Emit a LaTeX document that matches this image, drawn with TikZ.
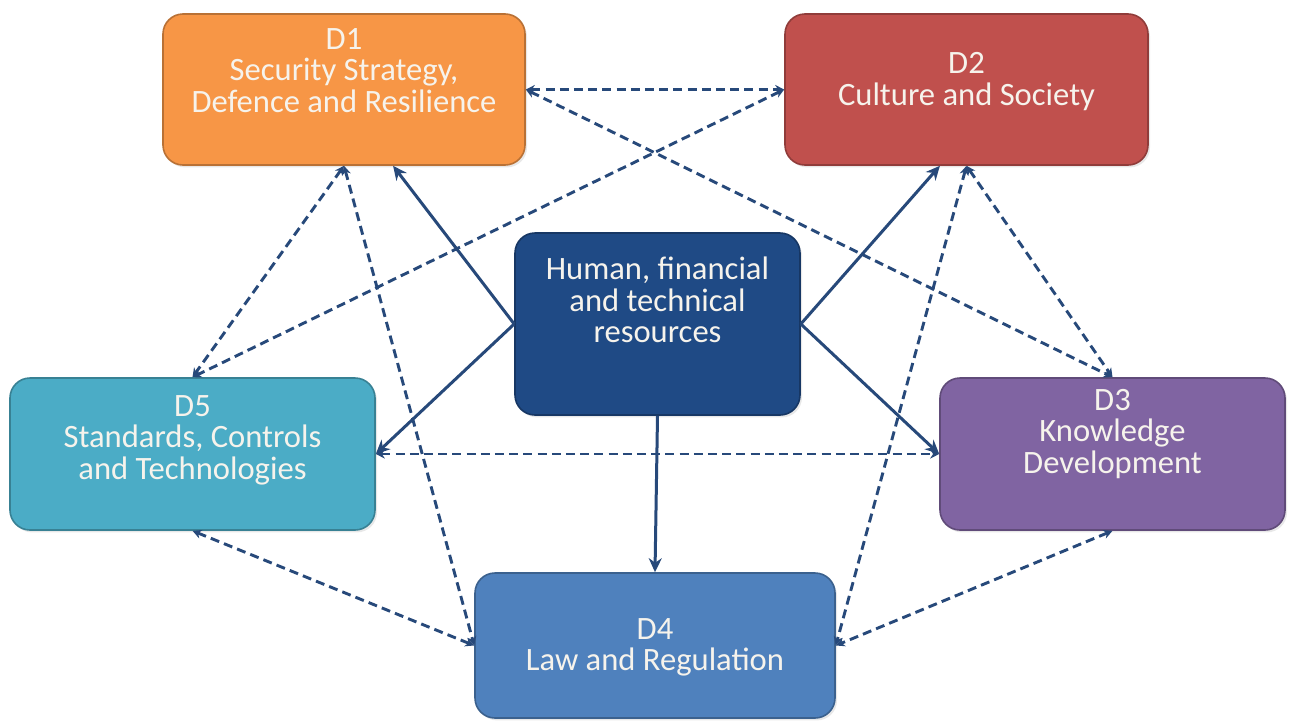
\documentclass[tikz,border=0pt]{standalone}
\usepackage{fontspec}
\setmainfont{Carlito}
\usetikzlibrary{arrows.meta,shadows,calc}
\definecolor{cOne}{HTML}{F79646}
\definecolor{cTwo}{HTML}{C0504D}
\definecolor{cThree}{HTML}{8064A2}
\definecolor{cFour}{HTML}{4F81BD}
\definecolor{cFive}{HTML}{4BACC6}
\definecolor{cMid}{HTML}{1F4A85}
\definecolor{lc}{HTML}{27497A}
\definecolor{tc}{HTML}{F6F3EC}
\begin{document}
\begin{tikzpicture}[x=0.5pt,y=-0.5pt,
  dbox/.style={rounded corners=10pt, line width=0.8pt,
    drop shadow={opacity=0.18, shadow xshift=1pt, shadow yshift=-1.2pt}},
  btext/.style={text=tc, align=center, font=\fontsize{16.3}{15.8}\selectfont},
  dline/.style={draw=lc, line width=1.45pt, dash pattern=on 4.5pt off 2.6pt,
    {Stealth[length=4.5pt,width=4.5pt]}-{Stealth[length=4.5pt,width=4.5pt]}},
  sline/.style={draw=lc, line width=1.5pt, -{Stealth[length=7pt,width=6.5pt]}}]
\path[use as bounding box, fill=white] (0,0) rectangle (1289,723);

\node[dbox, fill=cOne, draw=cOne!75!black, minimum width=181pt, minimum height=75.5pt,
  label={[btext, yshift=9.5pt]center:{D1\\Security Strategy,\\Defence and Resilience}}]
  (D1) at (344,89.5) {};
\node[dbox, fill=cTwo, draw=cTwo!75!black, minimum width=181.5pt, minimum height=75.5pt,
  label={[btext, yshift=4pt]center:{D2\\Culture and Society}}]
  (D2) at (966.5,89.5) {};
\node[dbox, fill=cMid, draw=cMid!75!black, minimum width=142.5pt, minimum height=91pt,
  label={[btext, yshift=12pt]center:{Human, financial\\and technical\\resources}}]
  (C) at (657.5,324) {};
\node[dbox, fill=cFive, draw=cFive!75!black, minimum width=182.5pt, minimum height=76pt,
  label={[btext, yshift=7pt]center:{D5\\Standards, Controls\\and Technologies}}]
  (D5) at (192.5,454) {};
\node[dbox, fill=cThree, draw=cThree!75!black, minimum width=172.5pt, minimum height=76pt,
  label={[btext, yshift=10pt]center:{D3\\Knowledge\\Development}}]
  (D3) at (1112.5,454) {};
\node[dbox, fill=cFour, draw=cFour!75!black, minimum width=180pt, minimum height=72.5pt,
  label={[btext, yshift=-1pt]center:{D4\\Law and Regulation}}]
  (D4) at (655,645.5) {};

% dashed links
\draw[dline] (D1.east) -- (D2.west);
\draw[dline] (D1.east) -- (D3.north);
\draw[dline] (D2.west) -- (D5.north);
\draw[dline] (D1.south) -- (D5.north);
\draw[dline] (D1.south) -- (D4.west);
\draw[dline] (D2.south) -- (D3.north);
\draw[dline] (D2.south) -- (D4.east);
\draw[dline] (D5.east) -- (D3.west);
\draw[dline] (D5.south) -- (D4.west);
\draw[dline] (D3.south) -- (D4.east);

% solid arrows
\draw[sline] (C.west) -- ($(D1.south west)!0.635!(D1.south east)$);
\draw[sline] (C.west) -- (D5.east);
\draw[sline] (C.east) -- ($(D2.south west)!0.427!(D2.south east)$);
\draw[sline] (C.east) -- (D3.west);
\draw[sline] (C.south) -- (D4.north);
\end{tikzpicture}
\end{document}
